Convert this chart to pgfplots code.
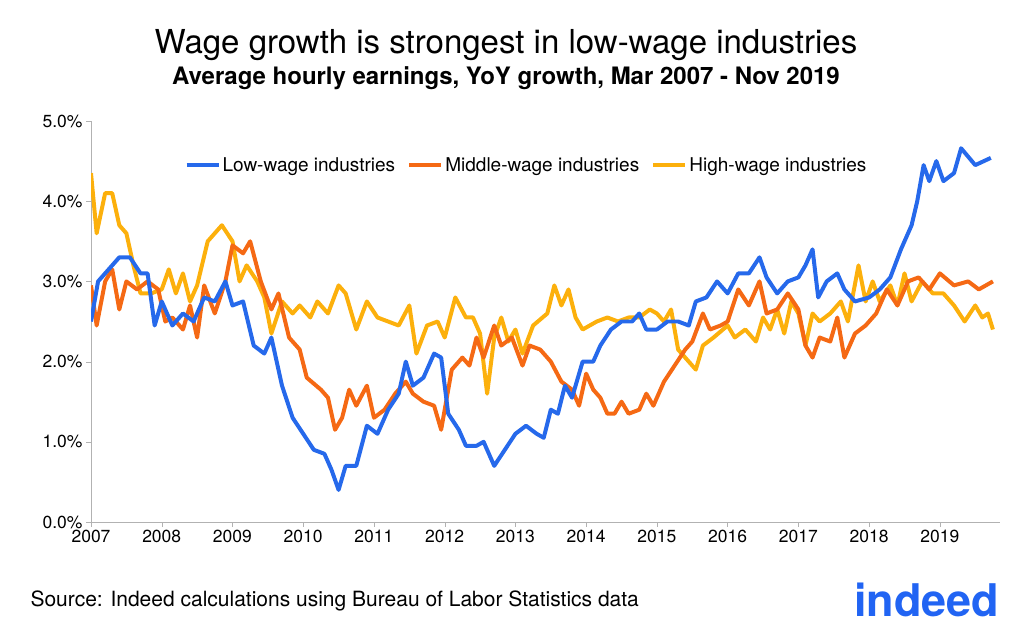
\documentclass[border=0pt]{standalone}
\usepackage{pgfplots}
\pgfplotsset{compat=1.18}
\usepackage{fontspec}
\setmainfont{TeX Gyre Heros}
\definecolor{cblue}{RGB}{38,105,235}
\definecolor{corange}{RGB}{245,105,20}
\definecolor{cyellow}{RGB}{252,176,12}
\definecolor{indeedblue}{RGB}{33,100,243}
\begin{document}
\begin{tikzpicture}
\useasboundingbox (0,0) rectangle (1024bp,638bp);
\node[font=\fontsize{33bp}{36bp}\selectfont] at (506bp,593bp) {Wage growth is strongest in low-wage industries};
\node[font=\fontsize{24bp}{28bp}\selectfont\bfseries] at (506bp,560bp) {Average hourly earnings, YoY growth, Mar 2007 - Nov 2019};
\node[anchor=west,font=\fontsize{21bp}{24bp}\selectfont] at (27bp,37bp) {Source: Indeed calculations using Bureau of Labor Statistics data};
\node[anchor=east,text=indeedblue,font=\fontsize{45bp}{48bp}\selectfont\bfseries] at (1003bp,38bp) {indeed};
\begin{axis}[
  at={(91bp,116bp)}, anchor=south west, scale only axis,
  width=909bp, height=401bp,
  xmin=2007, xmax=2019.85, ymin=0, ymax=5,
  axis x line*=bottom, axis y line*=left,
  axis line style={draw=gray!60, line width=0.8pt},
  xtick={2007,...,2019}, ytick={0,1,2,3,4,5},
  x tick label style={/pgf/number format/1000 sep=},
  yticklabel={\pgfmathprintnumber[fixed,fixed zerofill,precision=1]{\tick}\%},
  /pgf/number format/assume math mode=true,
  tick label style={font=\fontsize{17.5bp}{20bp}\selectfont},
  tick style={draw=gray!60}, major tick length=5bp,
  tick align=outside,
  legend style={draw=none, at={(0.479,0.89)}, anchor=center, legend columns=-1,
    font=\fontsize{19bp}{22bp}\selectfont, /tikz/every even column/.append style={column sep=10bp}},
  legend image code/.code={\draw[#1,line width=4.2pt] (0bp,0bp) -- (32bp,0bp);},
  every axis plot/.append style={line width=4pt, line join=round},
]
\addplot[cyellow, forget plot] coordinates {(2007.0,4.35)(2007.08,3.6)(2007.2,4.1)(2007.3,4.1)(2007.4,3.7)(2007.5,3.6)(2007.6,3.2)(2007.7,2.85)(2007.85,2.85)(2008.0,2.9)(2008.1,3.15)(2008.2,2.85)(2008.3,3.1)(2008.4,2.75)(2008.5,2.95)(2008.65,3.5)(2008.75,3.6)(2008.85,3.7)(2009.0,3.5)(2009.1,3.0)(2009.2,3.2)(2009.35,3.0)(2009.45,2.8)(2009.55,2.35)(2009.7,2.75)(2009.85,2.6)(2009.95,2.7)(2010.1,2.55)(2010.2,2.75)(2010.35,2.6)(2010.5,2.95)(2010.6,2.85)(2010.75,2.4)(2010.9,2.75)(2011.05,2.55)(2011.2,2.5)(2011.35,2.45)(2011.5,2.7)(2011.6,2.1)(2011.75,2.45)(2011.9,2.5)(2012.0,2.3)(2012.15,2.8)(2012.3,2.55)(2012.4,2.55)(2012.5,2.35)(2012.6,1.6)(2012.7,2.3)(2012.8,2.55)(2012.9,2.25)(2013.0,2.4)(2013.1,2.1)(2013.25,2.45)(2013.45,2.6)(2013.55,2.95)(2013.65,2.7)(2013.75,2.9)(2013.85,2.55)(2013.95,2.4)(2014.15,2.5)(2014.3,2.55)(2014.45,2.5)(2014.6,2.55)(2014.75,2.55)(2014.9,2.65)(2015.0,2.6)(2015.1,2.5)(2015.2,2.65)(2015.3,2.15)(2015.45,2.0)(2015.55,1.9)(2015.65,2.2)(2015.8,2.3)(2016.0,2.45)(2016.1,2.3)(2016.25,2.4)(2016.4,2.25)(2016.5,2.55)(2016.6,2.4)(2016.7,2.65)(2016.8,2.35)(2016.9,2.75)(2017.0,2.6)(2017.1,2.2)(2017.2,2.6)(2017.3,2.5)(2017.45,2.6)(2017.6,2.75)(2017.7,2.5)(2017.85,3.2)(2017.95,2.75)(2018.05,3.0)(2018.15,2.75)(2018.3,2.95)(2018.4,2.7)(2018.5,3.1)(2018.6,2.75)(2018.75,3.0)(2018.9,2.85)(2019.05,2.85)(2019.2,2.7)(2019.35,2.5)(2019.5,2.7)(2019.6,2.55)(2019.68,2.6)(2019.75,2.4)};
\addplot[corange, forget plot] coordinates {(2007.0,2.95)(2007.08,2.45)(2007.2,3.0)(2007.3,3.15)(2007.4,2.65)(2007.5,3.0)(2007.65,2.9)(2007.8,3.0)(2007.95,2.9)(2008.05,2.5)(2008.15,2.55)(2008.3,2.4)(2008.4,2.7)(2008.5,2.3)(2008.6,2.95)(2008.75,2.6)(2008.9,3.0)(2009.0,3.45)(2009.15,3.35)(2009.25,3.5)(2009.4,3.0)(2009.55,2.65)(2009.65,2.85)(2009.8,2.3)(2009.95,2.15)(2010.05,1.8)(2010.25,1.65)(2010.35,1.55)(2010.45,1.15)(2010.55,1.3)(2010.65,1.65)(2010.75,1.45)(2010.9,1.7)(2011.0,1.3)(2011.15,1.4)(2011.3,1.6)(2011.45,1.75)(2011.55,1.6)(2011.7,1.5)(2011.85,1.45)(2011.95,1.15)(2012.1,1.9)(2012.25,2.05)(2012.35,1.95)(2012.45,2.3)(2012.55,2.05)(2012.7,2.45)(2012.8,2.2)(2012.95,2.3)(2013.1,1.95)(2013.2,2.2)(2013.35,2.15)(2013.5,2.0)(2013.65,1.75)(2013.8,1.65)(2013.9,1.45)(2014.0,1.85)(2014.1,1.65)(2014.2,1.55)(2014.3,1.35)(2014.4,1.35)(2014.5,1.5)(2014.6,1.35)(2014.75,1.4)(2014.85,1.6)(2014.95,1.45)(2015.1,1.75)(2015.25,1.95)(2015.4,2.15)(2015.5,2.25)(2015.65,2.6)(2015.75,2.4)(2015.9,2.45)(2016.0,2.5)(2016.15,2.9)(2016.3,2.7)(2016.45,3.0)(2016.55,2.6)(2016.7,2.65)(2016.85,2.85)(2017.0,2.65)(2017.1,2.2)(2017.2,2.05)(2017.3,2.3)(2017.45,2.25)(2017.55,2.55)(2017.65,2.05)(2017.8,2.35)(2017.95,2.45)(2018.1,2.6)(2018.25,2.9)(2018.4,2.7)(2018.55,3.0)(2018.7,3.05)(2018.85,2.9)(2019.0,3.1)(2019.2,2.95)(2019.4,3.0)(2019.55,2.9)(2019.75,3.0)};
\addplot[cblue, forget plot] coordinates {(2007.0,2.5)(2007.1,3.0)(2007.25,3.15)(2007.4,3.3)(2007.55,3.3)(2007.7,3.1)(2007.8,3.1)(2007.9,2.45)(2008.0,2.75)(2008.15,2.45)(2008.3,2.6)(2008.45,2.5)(2008.6,2.8)(2008.75,2.75)(2008.9,3.0)(2009.0,2.7)(2009.15,2.75)(2009.3,2.2)(2009.45,2.1)(2009.55,2.3)(2009.7,1.7)(2009.85,1.3)(2010.0,1.1)(2010.15,0.9)(2010.3,0.85)(2010.4,0.65)(2010.5,0.4)(2010.6,0.7)(2010.75,0.7)(2010.9,1.2)(2011.05,1.1)(2011.2,1.4)(2011.35,1.6)(2011.45,2.0)(2011.55,1.7)(2011.7,1.8)(2011.85,2.1)(2011.95,2.05)(2012.05,1.35)(2012.2,1.15)(2012.3,0.95)(2012.45,0.95)(2012.55,1.0)(2012.7,0.7)(2012.85,0.9)(2013.0,1.1)(2013.15,1.2)(2013.3,1.1)(2013.4,1.05)(2013.5,1.4)(2013.6,1.35)(2013.7,1.7)(2013.8,1.55)(2013.95,2.0)(2014.1,2.0)(2014.2,2.2)(2014.35,2.4)(2014.5,2.5)(2014.65,2.5)(2014.75,2.6)(2014.85,2.4)(2015.0,2.4)(2015.15,2.5)(2015.3,2.5)(2015.45,2.45)(2015.55,2.75)(2015.7,2.8)(2015.85,3.0)(2016.0,2.85)(2016.15,3.1)(2016.3,3.1)(2016.45,3.3)(2016.55,3.05)(2016.7,2.85)(2016.85,3.0)(2017.0,3.05)(2017.1,3.2)(2017.2,3.4)(2017.28,2.8)(2017.4,3.0)(2017.55,3.1)(2017.65,2.9)(2017.8,2.75)(2018.0,2.8)(2018.15,2.9)(2018.3,3.05)(2018.45,3.4)(2018.6,3.7)(2018.68,4.0)(2018.77,4.45)(2018.85,4.25)(2018.95,4.5)(2019.05,4.25)(2019.2,4.35)(2019.3,4.66)(2019.5,4.45)(2019.72,4.54)};
\addlegendimage{cblue}\addlegendentry{Low-wage industries}
\addlegendimage{corange}\addlegendentry{Middle-wage industries}
\addlegendimage{cyellow}\addlegendentry{High-wage industries}
\end{axis}
\end{tikzpicture}
\end{document}
